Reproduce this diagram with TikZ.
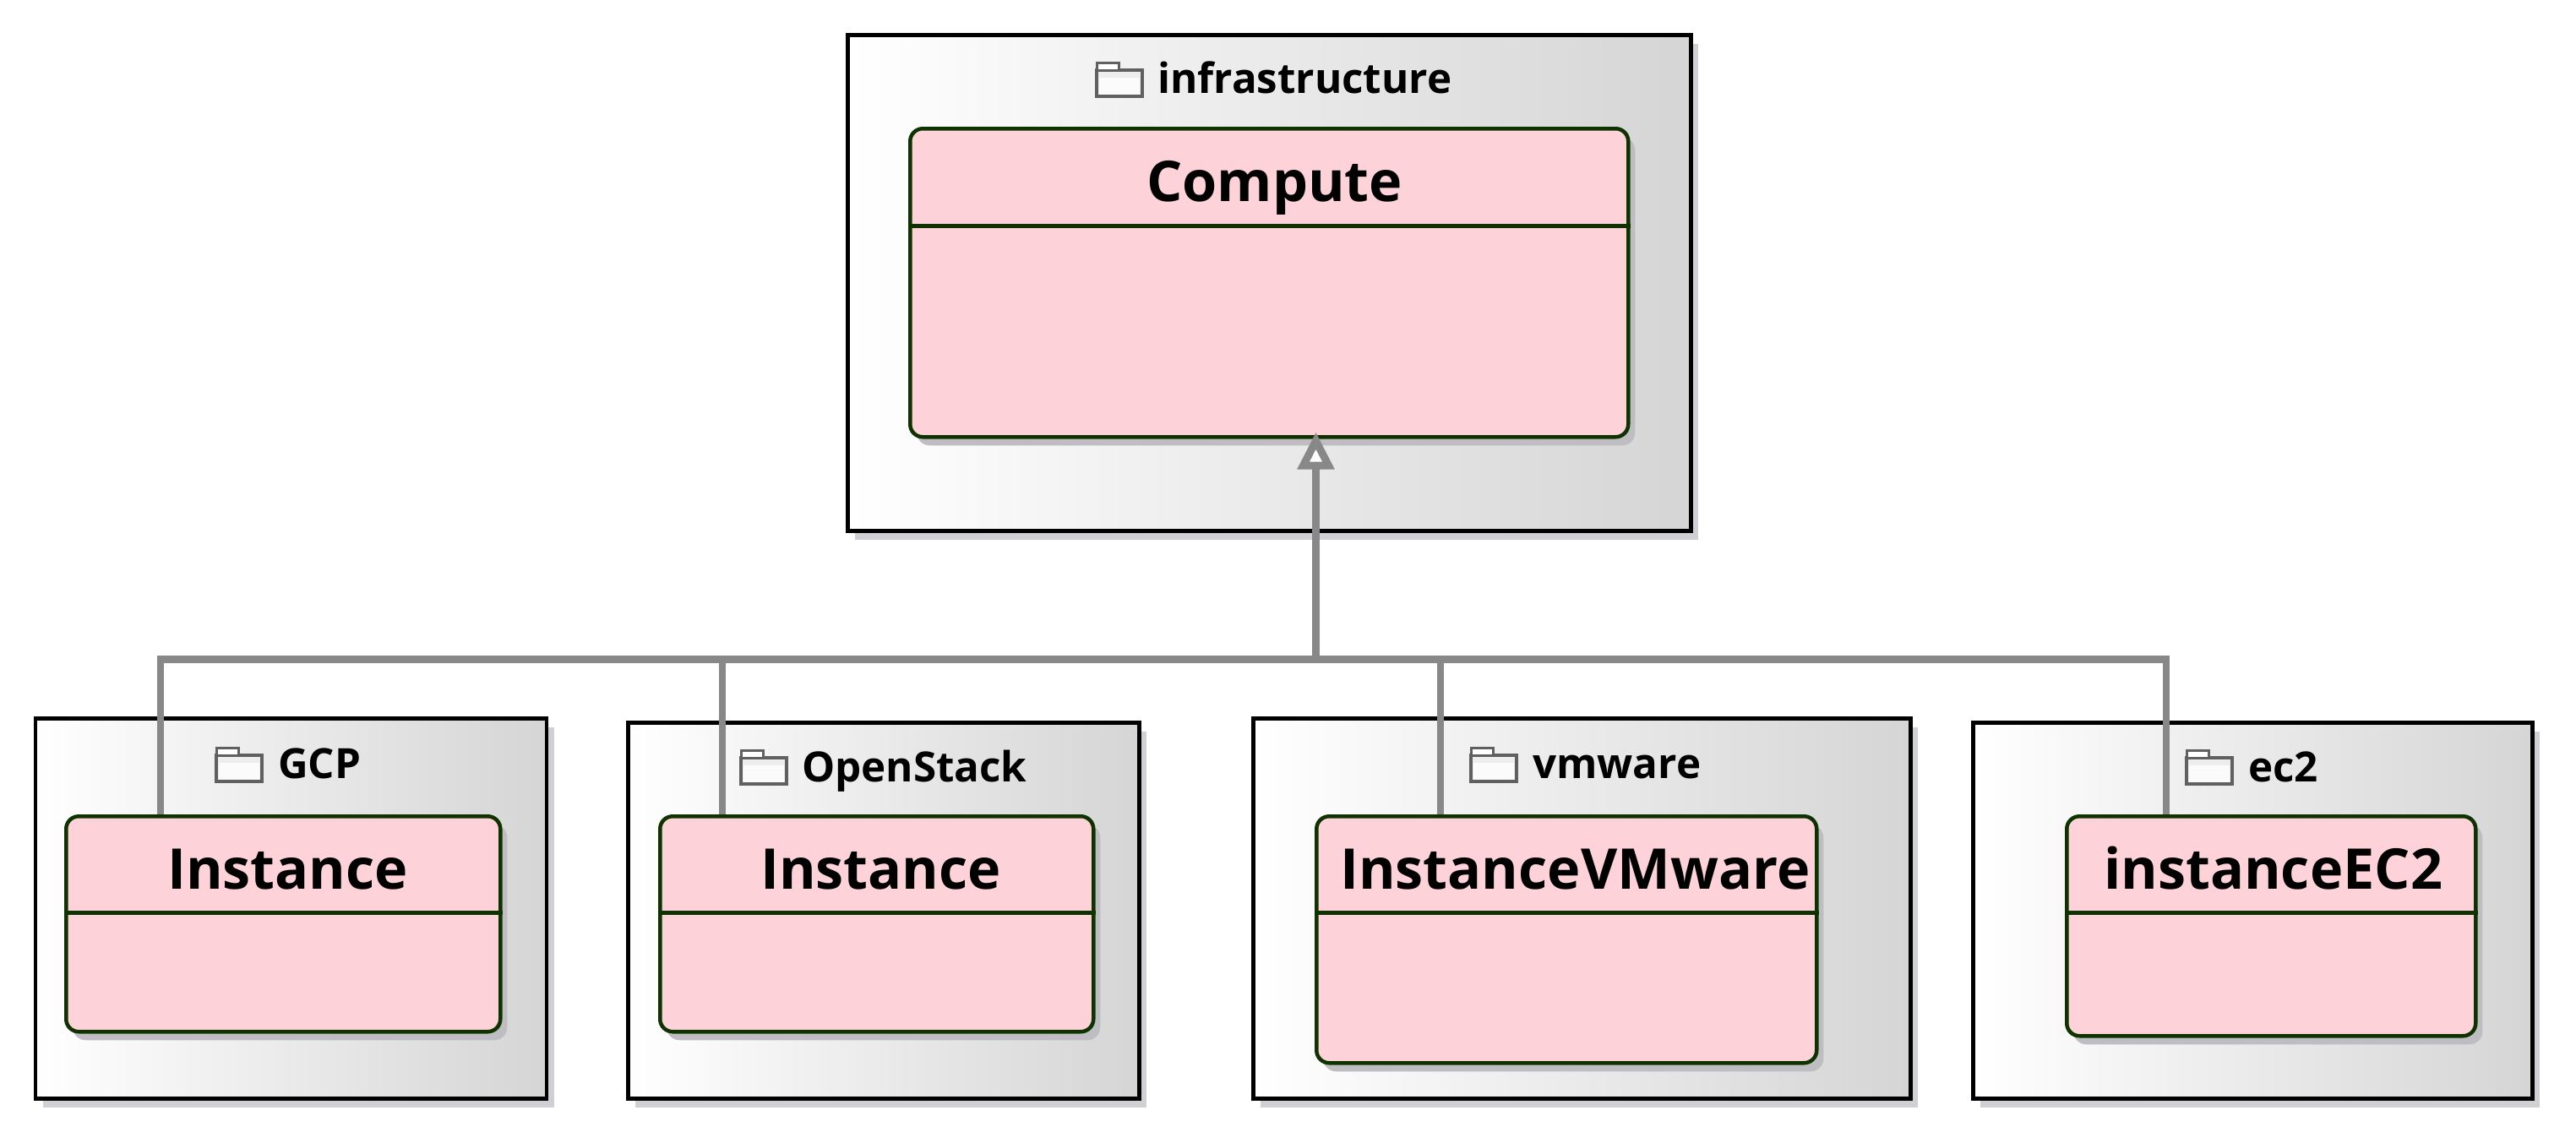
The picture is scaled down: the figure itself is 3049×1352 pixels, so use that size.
\documentclass[tikz,border=0pt]{standalone}
\usepackage{fontspec}
\setmainfont{Open Sans}[BoldFont={Open Sans Bold}]
\usetikzlibrary{shadows,arrows.meta,calc}
\definecolor{pinkfill}{HTML}{FDD2D8}
\definecolor{classline}{HTML}{0F3300}
\definecolor{conngray}{HTML}{888888}
\definecolor{pkgend}{HTML}{D5D5D5}
\definecolor{pkgshadow}{HTML}{D0D0D4}
\definecolor{classshadow}{HTML}{BEBEC2}
\definecolor{foldline}{HTML}{606060}
\tikzset{
  pkgbox/.style={rectangle,anchor=north west,inner sep=0pt,draw=black,line width=4.5pt,
    left color=white,right color=pkgend,
    drop shadow={shadow xshift=9pt,shadow yshift=-11pt,fill=pkgshadow,opacity=1}},
  classbox/.style={rectangle,anchor=north west,inner sep=0pt,draw=classline,line width=4.5pt,
    fill=pinkfill,rounded corners=15pt,
    drop shadow={shadow xshift=8pt,shadow yshift=-10pt,fill=classshadow,opacity=1}},
  sepline/.style={draw=classline,line width=5pt},
  pkglabel/.style={anchor=base west,inner sep=0pt,font=\fontsize{49.3}{49.3}\selectfont\bfseries},
  classlabel/.style={anchor=base west,inner sep=0pt,font=\fontsize{66.5}{66.5}\selectfont\bfseries},
  conn/.style={draw=conngray,line width=8pt},
  bus/.style={draw=conngray,line width=9pt},
  foldbody/.style={draw=foldline,line width=4pt,fill=black!7},
  foldtab/.style={draw=foldline,line width=3pt,fill=white},
}
\newcommand{\folder}[2]{%
  \path[foldbody] (#1,#2+9) rectangle (#1+54,#2+40);
  \path[foldtab] (#1,#2) rectangle (#1+26,#2+9);
  \fill[white!60!black!4] (#1+3,#2+18) rectangle (#1+51,#2+38);
}
\begin{document}
\begin{tikzpicture}[x=1pt,y=-1pt]
\useasboundingbox (0,0) rectangle (3049,1352);
\fill[white] (0,0) rectangle (3049,1352);
\begin{scope}[shift={(-2,-2)}]
% packages
\node[pkgbox,minimum width=998pt,minimum height=587pt] (infra) at (1003,41) {};
\node[pkgbox,minimum width=605pt,minimum height=450pt] (gcp) at (41.5,850) {};
\node[pkgbox,minimum width=605pt,minimum height=445pt] (openstack) at (743,855) {};
\node[pkgbox,minimum width=778pt,minimum height=450pt] (vmware) at (1483,850) {};
\node[pkgbox,minimum width=662pt,minimum height=445pt] (ec2) at (2335,855) {};
% classes
\node[classbox,minimum width=850pt,minimum height=365pt] (compute) at (1077,152) {};
\node[classbox,minimum width=514pt,minimum height=255pt] (instgcp) at (78,966) {};
\node[classbox,minimum width=513pt,minimum height=255pt] (instos) at (781,966) {};
\node[classbox,minimum width=592pt,minimum height=292pt] (instvm) at (1558,966) {};
\node[classbox,minimum width=484pt,minimum height=260pt] (instec) at (2446,966) {};
\end{scope}
% separators
\coordinate (sepc) at (0,267);
\coordinate (sepb) at (0,1080);
\draw[sepline] (compute.west |- sepc) -- (compute.east |- sepc);
\draw[sepline] (instgcp.west |- sepb) -- (instgcp.east |- sepb);
\draw[sepline] (instos.west |- sepb) -- (instos.east |- sepb);
\draw[sepline] (instvm.west |- sepb) -- (instvm.east |- sepb);
\draw[sepline] (instec.west |- sepb) -- (instec.east |- sepb);
% folder icons
\folder{1298}{74}
\folder{256}{885}
\folder{877}{888}
\folder{1741}{885}
\folder{2588}{888}
% package labels
\node[pkglabel] (linfra) at (1370,110) {infrastructure};
\node[pkglabel] (lgcp) at (329,921) {GCP};
\node[pkglabel] (los) at (949,925) {OpenStack};
\node[pkglabel] (lvm) at (1814,921) {vmware};
\node[pkglabel] (lec) at (2661,925) {ec2};
% class labels
\node[classlabel] (tcompute) at (1357,238) {Compute};
\node[classlabel] (tgcp) at (198,1052) {Instance};
\node[classlabel] (tos) at (900,1052) {Instance};
\node[classlabel] (tvm) at (1586,1052) {InstanceVMware};
\node[classlabel] (tec) at (2490,1052) {instanceEC2};
% connectors
\coordinate (bushub) at (1557.5,780);
\coordinate (busgcp) at (189.5,780);
\coordinate (busos) at (854.5,780);
\coordinate (busvm) at (1705,780);
\coordinate (busec) at (2564,780);
\draw[conn] (busgcp) -- (busgcp |- instgcp.north);
\draw[conn] (busos) -- (busos |- instos.north);
\draw[conn] (busvm) -- (busvm |- instvm.north);
\draw[conn] (busec) -- (busec |- instec.north);
\draw[bus] ([xshift=-4pt]busgcp) -- ([xshift=4pt]busec);
\draw[bus,-{Triangle[open,fill=white,length=44pt,width=42pt]}]
  (bushub) -- ([yshift=8pt]bushub |- compute.south);
\end{tikzpicture}
\end{document}
